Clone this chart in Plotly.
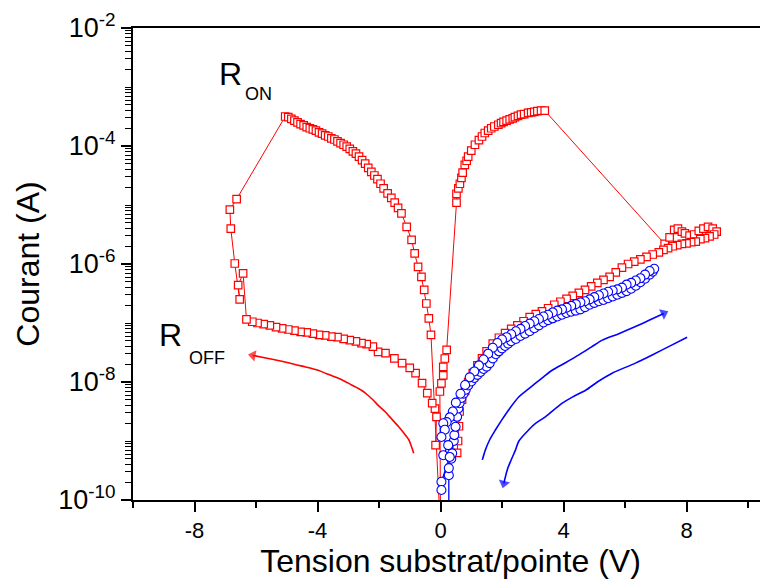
import plotly.graph_objects as go

# ---------------- data (voltage in V, current in A) ----------------
# red squares: full sweep, in measurement order
red_neg_off_v = [-0.16, -0.13, -0.18, -0.27, -0.43, -0.60, -0.81, -1.00, -1.25, -1.50, -1.79, -2.03,
                 -2.20, -2.40, -2.57, -2.75, -2.95, -3.15, -3.35, -3.55, -3.75, -3.95, -4.15, -4.35,
                 -4.55, -4.75, -4.95, -5.15, -5.35, -5.55, -5.75, -5.95, -6.12, -6.31]
red_neg_off_i = [8.51e-10, 2.57e-9, 3.55e-9, 4.37e-9, 6.46e-9, 9.55e-9, 1.41e-8, 1.74e-8, 2.09e-8, 2.51e-8,
                 3.09e-8, 3.24e-8, 3.98e-8, 4.37e-8, 4.57e-8, 4.90e-8, 5.13e-8, 5.37e-8, 5.75e-8, 5.89e-8,
                 6.17e-8, 6.31e-8, 6.61e-8, 6.92e-8, 7.08e-8, 7.41e-8, 7.76e-8, 8.13e-8, 8.51e-8, 9.12e-8,
                 9.55e-8, 1.0e-7, 1.05e-7, 1.15e-7]

red_switch_v = [-6.42, -6.58, -6.53, -6.69, -6.82, -6.85, -6.63]
red_switch_i = [6.92e-7, 4.37e-7, 2.51e-7, 1.02e-6, 3.98e-6, 8.32e-6, 1.26e-5]

red_neg_on_v = [-5.05, -4.95, -4.85, -4.75, -4.65, -4.55, -4.45, -4.35, -4.25, -4.15, -4.05, -3.95,
                -3.85, -3.75, -3.65, -3.55, -3.45, -3.35, -3.25, -3.15, -3.05, -2.95, -2.85, -2.75,
                -2.65, -2.55, -2.45, -2.35, -2.25, -2.15, -2.05, -1.95, -1.85, -1.72, -1.60, -1.49,
                -1.38, -1.27, -1.10, -0.94, -0.84, -0.73, -0.62, -0.53, -0.46, -0.38, -0.31, 0.0]
red_neg_on_i = [3.16e-4, 3.09e-4, 2.88e-4, 2.69e-4, 2.51e-4, 2.34e-4, 2.24e-4, 2.09e-4, 2.0e-4, 1.91e-4,
                1.82e-4, 1.70e-4, 1.62e-4, 1.51e-4, 1.45e-4, 1.35e-4, 1.29e-4, 1.20e-4, 1.12e-4, 1.05e-4,
                9.77e-5, 8.91e-5, 8.13e-5, 7.41e-5, 6.61e-5, 5.75e-5, 5.01e-5, 4.27e-5, 3.63e-5, 3.16e-5,
                2.75e-5, 2.29e-5, 1.91e-5, 1.58e-5, 1.32e-5, 1.10e-5, 8.91e-6, 7.24e-6, 4.27e-6, 2.57e-6,
                1.51e-6, 8.91e-7, 6.03e-7, 3.63e-7, 2.14e-7, 1.20e-7, 6.31e-8, 3.0e-11]

red_pos_on_v = [-0.02, 0.03, 0.09, 0.09, 0.14, 0.20, 0.52, 0.52, 0.58, 0.63, 0.68, 0.72, 0.79, 0.85,
                0.90, 1.00, 1.12, 1.25, 1.35, 1.44, 1.55, 1.65, 1.75, 1.88, 1.97, 2.05, 2.15, 2.25,
                2.35, 2.42, 2.52, 2.62, 2.72, 2.85, 2.95, 3.05, 3.15, 3.27, 3.39]
red_pos_on_i = [6.9e-9, 9.5e-9, 1.3e-8, 1.8e-8, 2.5e-8, 3.5e-8, 1.10e-5, 1.55e-5, 1.91e-5, 2.29e-5,
                2.88e-5, 3.55e-5, 4.79e-5, 5.62e-5, 6.61e-5, 8.32e-5, 1.05e-4, 1.26e-4, 1.45e-4, 1.66e-4,
                1.82e-4, 2.0e-4, 2.14e-4, 2.29e-4, 2.45e-4, 2.57e-4, 2.69e-4, 2.82e-4, 2.95e-4, 3.09e-4,
                3.24e-4, 3.39e-4, 3.47e-4, 3.63e-4, 3.72e-4, 3.80e-4, 3.89e-4, 3.98e-4, 3.98e-4]

red_high_v = [7.29, 7.45, 7.60, 7.72, 7.85, 7.95, 8.10, 8.25, 8.40, 8.55, 8.70, 8.85, 8.98, 8.90,
              8.75, 8.60, 8.45, 8.30, 8.15, 8.00, 7.85, 7.70, 7.55, 7.40, 7.25]
red_high_i = [2.19e-6, 2.82e-6, 3.80e-6, 3.98e-6, 3.55e-6, 3.31e-6, 3.02e-6, 3.16e-6, 3.63e-6, 3.98e-6,
              4.27e-6, 3.98e-6, 3.55e-6, 3.16e-6, 2.95e-6, 2.75e-6, 2.63e-6, 2.40e-6, 2.34e-6, 2.24e-6,
              2.19e-6, 2.09e-6, 2.0e-6, 1.86e-6, 1.74e-6]

red_pos_off_v = [7.10, 6.90, 6.70, 6.50, 6.30, 6.10, 5.90, 5.70, 5.50, 5.30, 5.10, 4.90, 4.70, 4.50,
                 4.30, 4.10, 3.90, 3.70, 3.50, 3.30, 3.10, 2.90, 2.70, 2.50, 2.30, 2.10, 1.90, 1.70,
                 1.50, 1.35, 1.20, 1.05, 0.90, 0.80, 0.70, 0.62, 0.60, 0.57, 0.54]
red_pos_off_i = [1.58e-6, 1.45e-6, 1.32e-6, 1.20e-6, 1.10e-6, 1.0e-6, 8.71e-7, 7.24e-7, 6.03e-7, 5.37e-7,
                 4.79e-7, 4.17e-7, 3.63e-7, 3.24e-7, 2.88e-7, 2.57e-7, 2.29e-7, 2.04e-7, 1.78e-7, 1.58e-7,
                 1.41e-7, 1.26e-7, 1.07e-7, 9.12e-8, 7.94e-8, 6.76e-8, 5.62e-8, 4.47e-8, 3.31e-8, 2.51e-8,
                 1.91e-8, 1.41e-8, 1.0e-8, 7.08e-9, 5.01e-9, 3.16e-9, 1.78e-9, 1.0e-9, 6.31e-10]

# blue circles: forward then backward sweep
blue_fwd_v = [0.27, 0.27, 0.27, 0.35, 0.38, 0.43, 0.45, 0.49, 0.54, 0.58, 0.62, 0.68, 0.75, 0.82, 0.90,
              1.00, 1.10, 1.20, 1.30, 1.40, 1.50, 1.60, 1.70, 1.80, 1.90, 2.00, 2.10, 2.20, 2.30, 2.45,
              2.60, 2.75, 2.90, 3.05, 3.20, 3.35, 3.50, 3.65, 3.80, 3.95, 4.10, 4.25, 4.40, 4.55, 4.70,
              4.85, 5.00, 5.15, 5.30, 5.45, 5.60, 5.75, 5.90, 6.05, 6.20, 6.35, 6.50, 6.65, 6.80, 6.90]
blue_fwd_i = [3.0e-11, 2.63e-10, 3.47e-10, 5.01e-10, 6.17e-10, 1.0e-9, 1.26e-9, 1.74e-9, 2.57e-9, 3.55e-9,
              4.37e-9, 5.37e-9, 6.31e-9, 7.41e-9, 8.71e-9, 1.02e-8, 1.17e-8, 1.32e-8, 1.48e-8, 1.66e-8,
              1.82e-8, 2.09e-8, 2.51e-8, 2.95e-8, 3.31e-8, 3.72e-8, 4.07e-8, 4.47e-8, 4.90e-8, 5.37e-8,
              6.03e-8, 6.61e-8, 7.24e-8, 8.13e-8, 9.12e-8, 1.02e-7, 1.12e-7, 1.20e-7, 1.29e-7, 1.38e-7,
              1.48e-7, 1.55e-7, 1.62e-7, 1.70e-7, 1.86e-7, 2.04e-7, 2.19e-7, 2.34e-7, 2.45e-7, 2.63e-7,
              2.82e-7, 3.02e-7, 3.24e-7, 3.47e-7, 3.80e-7, 4.27e-7, 4.90e-7, 5.62e-7, 6.61e-7, 7.41e-7]
blue_bwd_v = [6.95, 6.80, 6.65, 6.50, 6.35, 6.20, 6.05, 5.90, 5.75, 5.60, 5.45, 5.30, 5.15, 5.00, 4.85,
              4.70, 4.55, 4.40, 4.25, 4.10, 3.95, 3.80, 3.65, 3.50, 3.35, 3.20, 3.05, 2.90, 2.75, 2.60,
              2.45, 2.30, 2.15, 2.00, 1.85, 1.70, 1.55, 1.40, 1.25, 1.10, 0.95, 0.80, 0.65, 0.50, 0.40,
              0.30, 0.20, 0.09, 0.14, 0.03, 0.25, 0.09, 0.30, 0.03, 0.03]
blue_bwd_i = [8.32e-7, 7.59e-7, 6.61e-7, 5.75e-7, 5.25e-7, 4.79e-7, 4.47e-7, 3.98e-7, 3.72e-7, 3.55e-7,
              3.39e-7, 3.16e-7, 2.95e-7, 2.75e-7, 2.51e-7, 2.34e-7, 2.24e-7, 2.09e-7, 1.95e-7, 1.82e-7,
              1.70e-7, 1.62e-7, 1.51e-7, 1.38e-7, 1.29e-7, 1.17e-7, 1.07e-7, 9.77e-8, 8.91e-8, 7.94e-8,
              7.24e-8, 6.46e-8, 5.75e-8, 5.25e-8, 4.57e-8, 3.80e-8, 3.02e-8, 2.40e-8, 1.91e-8, 1.51e-8,
              1.20e-8, 8.91e-9, 6.31e-9, 4.47e-9, 3.16e-9, 2.51e-9, 2.09e-9, 2.0e-9, 1.55e-9, 1.17e-9,
              8.51e-10, 5.75e-10, 5.37e-10, 2.04e-10, 1.48e-10]

# hand-drawn direction arrows
arrow_red_v = [-0.87, -0.95, -1.03, -1.2, -1.36, -1.6, -1.81, -2.0, -2.2, -2.4, -2.57, -2.89, -3.15, -3.4,
               -3.7, -3.98, -4.5, -5.06, -5.6, -6.1]
arrow_red_i = [6.17e-10, 8.2e-10, 1.05e-9, 1.38e-9, 1.74e-9, 2.40e-9, 3.16e-9, 3.9e-9, 5.01e-9, 6.2e-9,
               7.24e-9, 8.91e-9, 1.05e-8, 1.20e-8, 1.38e-8, 1.58e-8, 1.86e-8, 2.19e-8, 2.51e-8, 2.82e-8]
arrow_blue_up_v = [1.36, 1.46, 1.6, 1.79, 2.0, 2.22, 2.55, 2.8, 3.09, 3.35, 3.63, 4.05, 4.5, 4.9, 5.26,
                   5.8, 6.34, 6.8, 7.26]
arrow_blue_up_i = [4.79e-10, 7.08e-10, 1.05e-9, 1.55e-9, 2.3e-9, 3.39e-9, 5.62e-9, 7.2e-9, 9.55e-9,
                   1.22e-8, 1.58e-8, 2.1e-8, 2.88e-8, 3.9e-8, 5.13e-8, 6.6e-8, 8.71e-8, 1.12e-7, 1.45e-7]
arrow_blue_down_v = [8.02, 7.42, 6.9, 6.34, 5.58, 5.1, 4.72, 4.3, 3.96, 3.41, 3.1, 2.87, 2.55, 2.44,
                     2.3, 2.17, 2.06]
arrow_blue_down_i = [5.75e-8, 3.98e-8, 2.9e-8, 2.09e-8, 1.41e-8, 1.0e-8, 7.24e-9, 5.6e-9, 4.37e-9,
                     2.57e-9, 2.0e-9, 1.55e-9, 1.0e-9, 7.08e-10, 4.8e-10, 3.24e-10, 1.91e-10]

x_major = [-8, -4, 0, 4, 8]
x_minor = [-10, -6, -2, 2, 6, 10]
y_exponents = [-10, -8, -6, -4, -2]

# ---------------- figure ----------------
# The html page body has an 8 px margin, so the figure is 8 px smaller than the window
FONT = "Liberation Sans, Arial, sans-serif"
RED = "#FF0000"
BLUE = "#0000FF"

red_v = red_neg_off_v + red_switch_v + red_neg_on_v + red_pos_on_v + red_high_v + red_pos_off_v
red_i = red_neg_off_i + red_switch_i + red_neg_on_i + red_pos_on_i + red_high_i + red_pos_off_i
blue_v = blue_fwd_v + blue_bwd_v
blue_i = blue_fwd_i + blue_bwd_i

fig = go.Figure()

for av, ai, col in [(arrow_red_v, arrow_red_i, RED),
                    (arrow_blue_up_v, arrow_blue_up_i, BLUE),
                    (arrow_blue_down_v, arrow_blue_down_i, BLUE)]:
    fig.add_trace(go.Scatter(x=av, y=ai, mode="lines",
                             line=dict(color=col, width=1.6, shape="spline", smoothing=0.8),
                             showlegend=False, hoverinfo="skip"))
    # arrowhead: marker on the last point, oriented along the last segment
    fig.add_trace(go.Scatter(x=av[-2:], y=ai[-2:], mode="markers",
                             marker=dict(symbol="triangle-up", size=[0, 10], color=col,
                                         angleref="previous", line=dict(width=0)),
                             showlegend=False, hoverinfo="skip"))

fig.add_trace(go.Scatter(x=red_v, y=red_i, mode="lines+markers",
                         line=dict(color=RED, width=1),
                         marker=dict(symbol="square", size=7.5, color="white",
                                     line=dict(color=RED, width=1.2)),
                         showlegend=False, cliponaxis=True))
fig.add_trace(go.Scatter(x=blue_v, y=blue_i, mode="lines+markers",
                         line=dict(color=BLUE, width=1.3),
                         marker=dict(symbol="circle", size=9, color="white",
                                     line=dict(color=BLUE, width=1.1)),
                         showlegend=False, cliponaxis=True))

y_major = [10.0 ** e for e in y_exponents]
y_text = [f"10<sup>{e}</sup>" for e in y_exponents]
y_minor = [m * 10.0 ** e for e in range(-10, -2) for m in range(1, 10)
           if not (m == 1 and e in y_exponents)]

fig.update_layout(
    width=760, height=579,
    margin=dict(l=125, r=0, t=20, b=87),
    paper_bgcolor="white", plot_bgcolor="white",
    font=dict(family=FONT, color="black"),
    xaxis=dict(range=[-10, 10.65], showline=True, linewidth=2, linecolor="black", mirror=True,
               showgrid=False, zeroline=False, automargin=False,
               tickmode="array", tickvals=x_major, ticktext=[str(v) for v in x_major],
               ticks="outside", ticklen=10, tickwidth=1.5, tickcolor="black",
               tickfont=dict(size=22, family=FONT),
               minor=dict(tickmode="array", tickvals=x_minor, ticks="outside", ticklen=6,
                          tickwidth=1.5, tickcolor="black"),
               title=dict(text="Tension substrat/pointe (V)", font=dict(size=32, family=FONT),
                          standoff=7)),
    yaxis=dict(type="log", range=[-10, -2], showline=True, linewidth=2, linecolor="black",
               mirror=False, showgrid=False, zeroline=False, automargin=False,
               tickmode="array", tickvals=y_major, ticktext=y_text,
               ticks="outside", ticklen=10, tickwidth=1.5, tickcolor="black",
               tickfont=dict(size=27, family=FONT),
               minor=dict(tickmode="array", tickvals=y_minor, ticks="outside", ticklen=6,
                          tickwidth=1.2, tickcolor="black"),
               title=dict(text="Courant (A)", font=dict(size=32, family=FONT), standoff=9)),
)

labels = [("R", 0.1528, 0.9036, 32), ("ON", 0.1975, 0.8602, 18),
          ("R", 0.0591, 0.3506, 32), ("OFF", 0.1173, 0.2998, 18)]
for txt, px, py, sz in labels:
    fig.add_annotation(x=px, y=py, xref="paper", yref="paper", text=txt, showarrow=False,
                       xanchor="center", yanchor="middle", font=dict(size=sz, family=FONT, color="black"))

fig.write_html("out.html")
